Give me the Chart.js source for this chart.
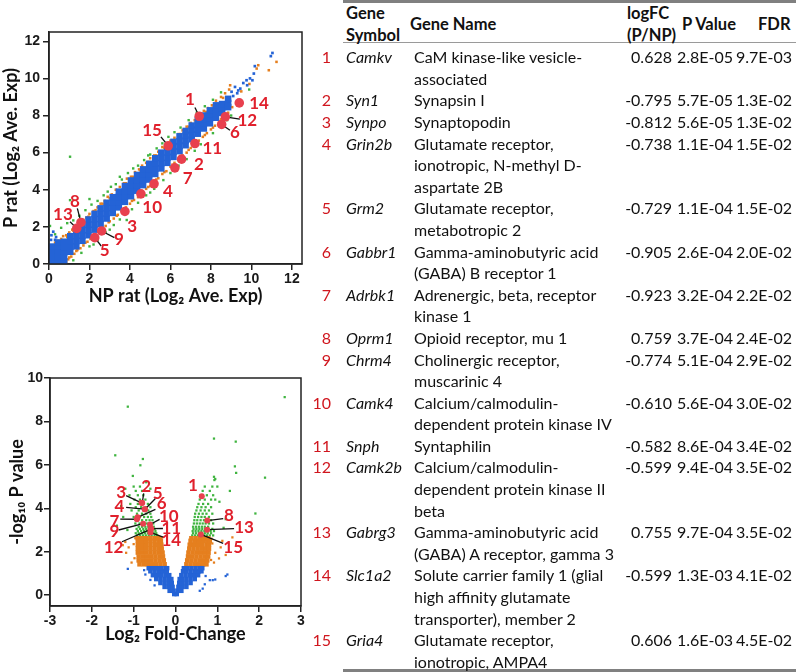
<!DOCTYPE html>
<html><head><meta charset="utf-8">
<script src="https://cdn.jsdelivr.net/npm/chart.js@4/dist/chart.umd.min.js"></script>
<style>
html,body{margin:0;padding:0;background:#fff;}
body{width:796px;height:672px;position:relative;overflow:hidden;font-family:Lato,'Noto Sans',sans-serif;color:#111;}
canvas{position:absolute;left:0;}
#c1{top:0;}
#c2{top:330px;}
.rule{position:absolute;left:343px;width:453px;background:#808080;}
.hd{position:absolute;font-weight:bold;font-size:16.5px;line-height:22px;white-space:pre;}
#rows{position:absolute;left:0;top:46.2px;width:796px;font-size:16px;line-height:21.6px;}
.row{position:relative;}
.row span{position:absolute;top:0;white-space:pre;}
.row .g{margin-left:414px;white-space:pre;}
.row .n{right:465px;color:#d0161e;}
.row .s{left:346px;font-style:italic;}
.row .v{right:124px;}
.row .p{right:63px;}
.row .f{right:4px;}
</style></head><body>
<canvas id="c1" width="310" height="310"></canvas>
<canvas id="c2" width="310" height="316"></canvas>
<div class="rule" style="top:0;height:2.5px"></div>
<div class="rule" style="top:42px;height:1px;background:#9a9a9a"></div>
<div class="rule" style="top:669px;height:2.5px"></div>
<div class="hd" style="left:346px;top:2px">Gene
Symbol</div>
<div class="hd" style="left:410px;top:13px">Gene Name</div>
<div class="hd" style="left:627px;top:2px">logFC
(P/NP)</div>
<div class="hd" style="left:682px;top:13px">P Value</div>
<div class="hd" style="left:758px;top:13px">FDR</div>
<div id="rows"></div>
<script>
// ---------- table data ----------
const geneSymbols = ['Camkv','Syn1','Synpo','Grin2b','Grm2','Gabbr1','Adrbk1','Oprm1','Chrm4','Camk4','Snph','Camk2b','Gabrg3','Slc1a2','Gria4'];
const geneNames = [
 'CaM kinase-like vesicle-\nassociated',
 'Synapsin I',
 'Synaptopodin',
 'Glutamate receptor,\nionotropic, N-methyl D-\naspartate 2B',
 'Glutamate receptor,\nmetabotropic 2',
 'Gamma-aminobutyric acid\n(GABA) B receptor 1',
 'Adrenergic, beta, receptor\nkinase 1',
 'Opioid receptor, mu 1',
 'Cholinergic receptor,\nmuscarinic 4',
 'Calcium/calmodulin-\ndependent protein kinase IV',
 'Syntaphilin',
 'Calcium/calmodulin-\ndependent protein kinase II\nbeta',
 'Gamma-aminobutyric acid\n(GABA) A receptor, gamma 3',
 'Solute carrier family 1 (glial\nhigh affinity glutamate\ntransporter), member 2',
 'Glutamate receptor,\nionotropic, AMPA4'];
const logFC = [0.628,-0.795,-0.812,-0.738,-0.729,-0.905,-0.923,0.759,-0.774,-0.610,-0.582,-0.599,0.755,-0.599,0.606];
const pValues = ['2.8E-05','5.7E-05','5.6E-05','1.1E-04','1.1E-04','2.6E-04','3.2E-04','3.7E-04','5.1E-04','5.6E-04','8.6E-04','9.4E-04','9.7E-04','1.3E-03','1.6E-03'];
const fdrValues = ['9.7E-03','1.3E-02','1.3E-02','1.5E-02','1.5E-02','2.0E-02','2.2E-02','2.4E-02','2.9E-02','3.0E-02','3.4E-02','3.5E-02','3.5E-02','4.1E-02','4.5E-02'];
// -log10 of the P values above (volcano y of the 15 genes)
const negLogP = [4.553,4.244,4.252,3.959,3.959,3.585,3.495,3.432,3.292,3.252,3.066,3.027,3.013,2.886,2.796];

// ---------- MA-style scatter (P vs NP) ----------
const maTicks = [0,2,4,6,8,10,12];
const maGeneX = [7.42,6.55,3.75,5.19,2.26,8.53,6.22,1.58,2.60,4.54,7.21,8.71,1.37,9.40,5.89];
const maGeneY = [7.96,5.65,2.83,4.32,1.42,7.52,5.18,2.24,1.78,3.78,6.49,7.93,1.92,8.68,6.37];
const maLabelX = [6.96,7.41,4.11,5.88,2.75,9.19,6.85,1.28,3.46,5.10,8.07,9.80,0.69,10.38,5.09];
const maLabelY = [8.88,5.38,2.00,3.93,0.72,7.07,4.59,3.38,1.33,3.07,6.20,7.72,2.64,8.62,7.21];
const maLineX = [7.21,null,null,null,2.58,8.94,null,1.40,3.23,null,null,9.43,1.04,null,5.53];
const maLineY = [8.43,null,null,null,0.97,7.21,null,3.00,1.42,null,null,7.80,2.28,null,6.85];
const maBlue = [
[0.15,0.1],[0.15,0.38],[0.15,0.66],[0.15,0.94],
[0.45,0.1],[0.45,0.38],[0.45,0.66],[0.45,0.94],[0.45,1.16],
[0.75,0.12],[0.75,0.36],[0.75,0.63],[0.75,0.92],[0.75,1.2],
[1.05,0.66],[1.05,0.93],[1.05,1.22],[1.05,1.5],
[1.35,0.95],[1.35,1.23],[1.35,1.52],[1.35,1.8],
[1.65,1.25],[1.65,1.53],[1.65,1.82],[1.65,2.1],
[1.95,1.55],[1.95,1.83],[1.95,2.12],[1.95,2.4],
[2.25,1.85],[2.25,2.13],[2.25,2.42],[2.25,2.7],
[2.55,2.15],[2.55,2.43],[2.55,2.72],[2.55,3.0],
[2.85,2.45],[2.85,2.73],[2.85,3.02],[2.85,3.3],
[3.15,2.75],[3.15,3.03],[3.15,3.32],[3.15,3.6],
[3.45,3.05],[3.45,3.33],[3.45,3.62],[3.45,3.9],
[3.75,3.35],[3.75,3.63],[3.75,3.92],[3.75,4.2],
[4.05,3.65],[4.05,3.93],[4.05,4.22],[4.05,4.5],
[4.35,3.95],[4.35,4.23],[4.35,4.52],[4.35,4.8],
[4.65,4.25],[4.65,4.53],[4.65,4.82],[4.65,5.1],
[4.95,4.55],[4.95,4.83],[4.95,5.12],[4.95,5.4],
[5.25,4.85],[5.25,5.13],[5.25,5.42],[5.25,5.7],
[5.55,5.15],[5.55,5.43],[5.55,5.72],[5.55,6.0],
[5.85,5.45],[5.85,5.73],[5.85,6.02],[5.85,6.28],
[6.15,5.77],[6.15,6.04],[6.15,6.32],[6.15,6.58],
[6.45,6.08],[6.45,6.35],[6.45,6.62],[6.45,6.88],
[6.75,6.4],[6.75,6.66],[6.75,6.93],[6.75,7.17],
[7.05,6.72],[7.05,6.98],[7.05,7.24],[7.05,7.46],
[7.35,7.02],[7.35,7.28],[7.35,7.53],[7.35,7.74],
[7.65,7.3],[7.65,7.56],[7.65,7.8],[7.65,8.0],
[7.95,7.58],[7.95,7.84],[7.95,8.08],[7.95,8.28],
[8.25,7.88],[8.25,8.12],[8.25,8.36],[8.25,8.55],
[8.55,8.15],[8.55,8.4],[8.55,8.62],
[8.85,8.45],[8.85,8.68],[8.85,8.9]];
const maBlueSparse = [
[9.02,9.28],[9.19,9.54],[9.3,9.2],[9.45,9.45],[9.1,9.05],[9.76,9.9],[9.79,9.63],[9.93,10.0],
[10.12,10.26],[10.17,10.66],[10.96,11.2],[11.04,11.37],[9.6,9.75],[10.05,9.9],[9.35,9.35],
[0.21,1.74],[0.35,1.45],[0.1,1.3],[0.12,1.55],[0.3,1.3]];
const maOrange = [
[0.3,1.15],[0.45,1.25],[0.6,1.35],[0.7,1.5],[0.85,1.55],[1.0,1.7],[1.15,1.85],[1.3,1.98],[1.5,2.15],[1.7,2.38],
[1.85,2.5],[2.0,2.7],[2.2,2.85],[2.4,3.05],[2.55,3.25],[2.75,3.4],[2.9,3.62],[3.1,3.75],[3.3,4.0],[3.5,4.15],
[3.7,4.35],[3.85,4.6],[4.05,4.7],[4.25,4.95],[4.45,5.1],[4.6,5.3],[4.8,5.45],[5.0,5.7],[5.2,5.85],[5.4,6.05],
[5.6,6.3],[5.8,6.4],[6.0,6.65],[6.2,6.8],[6.4,7.0],[6.6,7.2],[6.8,7.4],[7.0,7.6],[7.2,7.75],[7.45,8.0],
[7.65,8.25],[7.85,8.4],[8.05,8.55],[8.25,8.8],[8.5,9.0],[8.7,9.2],[8.95,9.63],[8.9,9.4],
[0.55,1.2],[0.9,1.45],[1.2,1.8],[1.6,2.2],[1.95,2.55],[2.3,2.9],[2.65,3.25],[3.0,3.55],[3.4,3.95],[3.8,4.35],
[4.15,4.7],[4.5,5.05],[4.9,5.5],[5.3,5.85],[5.7,6.25],[6.1,6.6],[6.5,7.0],[6.9,7.4],[7.3,7.8],[7.75,8.2],
[8.15,8.55],[8.6,8.95],
[10.34,10.71],[10.26,10.53],[10.86,10.44],[11.24,10.89],[9.9,9.7],[9.5,9.3],
[0.85,0.1],[0.95,0.25],[1.1,0.4],[1.25,0.55],[1.4,0.75],[1.55,0.85],[1.7,1.0],[1.9,1.2],[2.05,1.35],[2.25,1.55],
[2.45,1.72],[2.6,1.95],[2.8,2.05],[3.0,2.3],[3.2,2.45],[3.4,2.65],[3.6,2.85],[3.8,3.05],[4.0,3.25],[4.2,3.45],
[4.4,3.6],[4.6,3.85],[4.8,4.05],[5.0,4.2],[5.2,4.45],[5.4,4.62],[5.6,4.85],[5.8,5.0],[6.0,5.25],[6.2,5.45],
[6.4,5.6],[6.6,5.85],[6.8,6.0],[7.0,6.25],[7.2,6.4],[7.4,6.65],[7.6,6.85],[7.8,7.05],[8.0,7.25],[8.2,7.45],
[8.4,7.7],[8.6,7.85],[8.85,8.15],[9.05,8.45],
[1.0,0.35],[1.35,0.7],[1.8,1.15],[2.15,1.5],[2.55,1.85],[2.95,2.25],[3.35,2.6],[3.75,3.0],[4.1,3.4],[4.5,3.8],
[4.9,4.15],[5.3,4.55],[5.7,4.95],[6.1,5.35],[6.5,5.75],[6.9,6.15],[7.3,6.55],[7.7,6.95],[8.1,7.35],[8.5,7.8]];
const maGreen = [
[0.05,2.05],[0.3,1.6],[0.6,1.95],[0.9,2.2],[1.04,3.44],[1.2,2.35],[1.5,2.6],[1.8,2.9],[2.1,3.2],[2.4,3.4],
[2.7,3.7],[2.9,3.9],[3.06,4.16],[3.3,4.3],[3.6,4.55],[3.9,4.9],[4.16,5.15],[4.4,5.3],[4.7,5.6],[5.0,5.9],
[5.32,6.23],[5.6,6.5],[5.9,6.85],[6.2,7.1],[6.5,7.35],[6.9,7.75],[7.3,8.15],[7.7,8.5],[8.1,8.85],[8.5,9.25],
[1.04,5.78],[2.0,3.5],[3.5,4.7],[4.9,5.85],[9.89,9.4],
[1.2,0.2],[1.6,0.6],[2.0,0.95],[2.4,1.3],[2.8,1.7],[3.2,2.1],[3.5,2.4],[3.84,2.37],[4.1,2.95],[4.4,3.3],
[4.8,3.7],[5.2,4.05],[5.65,4.52],[6.0,4.9],[6.4,5.3],[6.8,5.65],[7.2,6.1],[7.5,6.45],[8.1,7.05],[8.45,7.4],
[8.8,7.75],[9.0,8.0],[2.2,1.05],[3.0,1.85],[5.0,3.85],[6.6,5.5]];

// ---------- volcano ----------
const volXTicks = [-3,-2,-1,0,1,2,3];
const volYTicks = [0,2,4,6,8,10];
const volLabelX = [0.415,-0.70,-1.30,-1.34,-0.425,-0.33,-1.46,1.28,-1.46,-0.16,-0.10,-1.48,1.64,-0.10,1.38];
const volLabelY = [5.04,5.02,4.73,4.10,4.69,4.21,3.38,3.66,2.92,3.64,3.07,2.18,3.12,2.50,2.18];
const volLineX = [null,-0.76,-1.18,-1.18,-0.48,-0.48,-1.32,1.14,-1.36,-0.38,-0.30,-1.28,1.40,-0.28,1.14];
const volLineY = [null,4.69,4.58,4.04,4.45,3.95,3.50,3.52,3.00,3.49,3.07,2.46,3.06,2.66,2.38];
const volBlue = [
[-0.03,0.05],[0.03,0.05],
[-0.14,0.2],[-0.05,0.2],[0.05,0.2],[0.14,0.2],
[-0.26,0.38],[-0.16,0.38],[-0.07,0.38],[0.07,0.38],[0.16,0.38],[0.26,0.38],
[-0.36,0.56],[-0.26,0.56],[-0.16,0.56],[-0.09,0.56],[0.09,0.56],[0.16,0.56],[0.26,0.56],[0.36,0.56],
[-0.46,0.74],[-0.36,0.74],[-0.26,0.74],[-0.16,0.74],[-0.1,0.74],[0.1,0.74],[0.16,0.74],[0.26,0.74],[0.36,0.74],[0.46,0.74],
[-0.54,0.92],[-0.44,0.92],[-0.34,0.92],[-0.24,0.92],[-0.15,0.92],[0.14,0.92],[0.24,0.92],[0.34,0.92],[0.44,0.92],[0.54,0.92],
[-0.6,1.1],[-0.5,1.1],[-0.4,1.1],[-0.3,1.1],[-0.21,1.1],[0.18,1.1],[0.26,1.1],[0.36,1.1],[0.46,1.1],[0.56,1.1],[0.62,1.1],
[-0.64,1.24],[-0.54,1.24],[-0.44,1.24],[-0.34,1.24],[-0.24,1.24],[-0.2,1.24],[0.2,1.24],[0.28,1.24],[0.38,1.24],[0.48,1.24],[0.58,1.24],[0.64,1.24]];
const volBlueSparse = [
[-1.14,1.21],[-0.75,1.15],[-0.72,0.95],[0.72,0.88],[0.82,0.69],[0.89,0.69],[0.95,0.72],[1.2,0.88],[1.24,0.95],
[0.7,0.5],[0.65,0.3],[-0.6,0.7],[0.58,0.2],[-0.5,0.45]];
const volOrange = [
[-0.86,1.42],[-0.76,1.42],[-0.66,1.42],[-0.56,1.42],[-0.46,1.42],[-0.36,1.42],[-0.26,1.42],[0.26,1.42],[0.36,1.42],[0.46,1.42],[0.56,1.42],[0.66,1.42],[0.74,1.42],
[-0.88,1.6],[-0.78,1.6],[-0.68,1.6],[-0.58,1.6],[-0.48,1.6],[-0.38,1.6],[-0.28,1.6],[0.28,1.6],[0.38,1.6],[0.48,1.6],[0.58,1.6],[0.68,1.6],[0.76,1.6],
[-0.88,1.78],[-0.78,1.78],[-0.68,1.78],[-0.58,1.78],[-0.48,1.78],[-0.38,1.78],[-0.3,1.78],[0.3,1.78],[0.4,1.78],[0.5,1.78],[0.6,1.78],[0.7,1.78],[0.78,1.78],
[-0.9,1.96],[-0.8,1.96],[-0.7,1.96],[-0.6,1.96],[-0.5,1.96],[-0.4,1.96],[-0.31,1.96],[0.31,1.96],[0.41,1.96],[0.51,1.96],[0.61,1.96],[0.71,1.96],[0.79,1.96],
[-0.9,2.14],[-0.8,2.14],[-0.7,2.14],[-0.6,2.14],[-0.5,2.14],[-0.4,2.14],[-0.33,2.14],[0.33,2.14],[0.43,2.14],[0.53,2.14],[0.63,2.14],[0.73,2.14],[0.8,2.14],
[-0.9,2.32],[-0.8,2.32],[-0.7,2.32],[-0.6,2.32],[-0.5,2.32],[-0.41,2.32],[-0.34,2.32],[0.34,2.32],[0.44,2.32],[0.54,2.32],[0.64,2.32],[0.74,2.32],[0.8,2.32],
[-0.9,2.5],[-0.8,2.5],[-0.7,2.5],[-0.6,2.5],[-0.5,2.5],[-0.4,2.5],[-0.35,2.5],[0.36,2.5],[0.46,2.5],[0.56,2.5],[0.66,2.5],[0.76,2.5],[0.82,2.5],
[-0.9,2.62],[-0.8,2.62],[-0.7,2.62],[-0.6,2.62],[-0.5,2.62],[-0.42,2.62],[-0.36,2.62],[0.38,2.62],[0.48,2.62],[0.58,2.62],[0.68,2.62],[0.78,2.62]];
const volOrangeSparse = [
[-1.18,1.95],[-1.05,1.5],[-1.12,2.2],[-1.2,2.45],[-0.98,1.7],[-1.0,2.35],[-1.26,2.3],[-0.96,2.62],
[0.88,2.38],[1.08,2.2],[1.04,1.69],[0.92,1.5],[0.95,1.95],[1.12,2.5],[0.86,2.6],[1.2,1.85],[1.36,2.66],[0.85,1.62]];
const volGreen = [
[-0.92,2.75],[-0.85,2.75],[-0.78,2.75],[-0.71,2.75],[-0.64,2.75],[-0.57,2.75],[-0.5,2.75],[-0.44,2.75],
[-0.95,2.85],[-0.88,2.85],[-0.8,2.85],[-0.73,2.85],[-0.66,2.85],[-0.59,2.85],[-0.52,2.85],[-0.46,2.85],
[-0.9,2.95],[-0.82,2.95],[-0.75,2.95],[-0.68,2.95],[-0.61,2.95],[-0.55,2.95],[-0.48,2.95],
[-0.93,3.05],[-0.85,3.05],[-0.77,3.05],[-0.7,3.05],[-0.63,3.05],[-0.56,3.05],[-0.5,3.05],
[-0.88,3.15],[-0.8,3.15],[-0.72,3.15],[-0.65,3.15],[-0.58,3.15],[-0.52,3.15],
[-0.96,3.3],[-0.86,3.3],[-0.76,3.3],[-0.68,3.3],[-0.6,3.3],[-0.53,3.3],
[-0.9,3.45],[-0.8,3.45],[-0.7,3.45],[-0.62,3.45],[-0.55,3.45],
[-1.0,3.6],[-0.85,3.6],[-0.75,3.6],[-0.66,3.6],[-0.58,3.6],
[-0.92,3.75],[-0.8,3.75],[-0.7,3.75],[-0.6,3.75],
[-1.05,3.9],[-0.88,3.9],[-0.76,3.9],[-0.65,3.9],
[-0.95,4.05],[-0.82,4.05],[-0.7,4.05],[-0.6,4.05],
[-1.08,4.2],[-0.9,4.2],[-0.78,4.2],[-0.66,4.2],
[-0.98,4.4],[-0.85,4.4],[-0.72,4.4],
[-1.1,4.6],[-0.9,4.6],[-0.77,4.6],
[-0.95,4.8],[-0.8,4.8],[-1.0,5.0],[-0.85,5.0],
[-1.14,8.68],[-1.44,6.44],[-0.78,6.27],[-0.84,5.98],[-1.02,5.49],[-1.2,4.9],[-1.3,4.1],[-1.25,3.6],[-1.4,3.2],
[-0.6,4.9],[-0.7,5.2],[-1.15,3.0],
[0.4,2.75],[0.47,2.75],[0.54,2.75],[0.61,2.75],[0.68,2.75],[0.75,2.75],[0.82,2.75],[0.9,2.75],
[0.42,2.85],[0.49,2.85],[0.56,2.85],[0.63,2.85],[0.7,2.85],[0.77,2.85],[0.85,2.85],
[0.41,2.95],[0.48,2.95],[0.55,2.95],[0.62,2.95],[0.69,2.95],[0.76,2.95],[0.84,2.95],[0.92,2.95],
[0.43,3.05],[0.5,3.05],[0.57,3.05],[0.64,3.05],[0.71,3.05],[0.79,3.05],[0.88,3.05],
[0.42,3.15],[0.49,3.15],[0.56,3.15],[0.63,3.15],[0.7,3.15],[0.78,3.15],
[0.44,3.3],[0.51,3.3],[0.58,3.3],[0.65,3.3],[0.72,3.3],[0.8,3.3],[0.9,3.3],
[0.45,3.45],[0.52,3.45],[0.6,3.45],[0.68,3.45],[0.76,3.45],[0.85,3.45],
[0.46,3.6],[0.54,3.6],[0.62,3.6],[0.7,3.6],[0.8,3.6],
[0.47,3.75],[0.56,3.75],[0.65,3.75],[0.74,3.75],[0.88,3.75],
[0.5,3.9],[0.6,3.9],[0.7,3.9],[0.8,3.9],
[0.52,4.05],[0.62,4.05],[0.72,4.05],[0.85,4.05],
[0.55,4.2],[0.66,4.2],[0.78,4.2],
[0.58,4.4],[0.7,4.4],[0.85,4.4],[0.95,4.4],
[0.6,4.6],[0.75,4.6],[0.9,4.6],[0.65,4.8],[0.82,4.8],[0.7,5.0],[0.88,5.0],[1.0,5.0],[0.93,5.3],
[0.92,7.21],[1.44,7.07],[1.42,5.93],[1.45,5.63],[2.14,5.41],[1.91,3.76],[2.61,9.12],[0.92,5.45],[0.95,5.35],
[1.05,4.3],[1.2,3.5],[1.15,3.1],[1.3,4.8]];

// ---------- colours ----------
const BLUE = '#2463d6', ORANGE = '#e57f1e', GREEN = '#3fb43f', RED = '#e8404e', LABRED = '#e0202c';

// ---------- table build ----------
const rows = document.getElementById('rows');
geneSymbols.forEach((s, i) => {
  const row = document.createElement('div');
  row.className = 'row';
  const add = (tag, cls, txt) => { const e = document.createElement(tag); e.className = cls; e.textContent = txt; row.appendChild(e); };
  add('span', 'n', String(i + 1));
  add('span', 's', s);
  add('span', 'v', logFC[i].toFixed(3));
  add('span', 'p', pValues[i]);
  add('span', 'f', fdrValues[i]);
  add('div', 'g', geneNames[i]);
  rows.appendChild(row);
});

// ---------- chart helpers ----------
const pts = a => a.map(p => ({x: p[0], y: p[1]}));
function annotPlugin(gx, gy, lx, ly, sx, sy, fontSize) {
  return {
    id: 'annot',
    beforeDatasetDraw(chart, args) {
      if (args.index !== 0) return;
      const {ctx, scales: {x, y}} = chart;
      ctx.save();
      ctx.strokeStyle = '#111';
      ctx.lineWidth = 1.3;
      gx.forEach((v, i) => {
        if (sx[i] === null) return;
        ctx.beginPath();
        ctx.moveTo(x.getPixelForValue(sx[i]), y.getPixelForValue(sy[i]));
        ctx.lineTo(x.getPixelForValue(v), y.getPixelForValue(gy[i]));
        ctx.stroke();
      });
      ctx.restore();
    },
    afterDatasetsDraw(chart) {
      const {ctx, chartArea: a, scales: {x, y}} = chart;
      ctx.save();
      ctx.strokeStyle = '#222';
      ctx.lineWidth = 1.5;
      ctx.strokeRect(a.left, a.top, a.right - a.left, a.bottom - a.top);
      ctx.fillStyle = LABRED;
      ctx.font = 'bold ' + fontSize + 'px Lato';
      ctx.textAlign = 'center';
      ctx.textBaseline = 'middle';
      lx.forEach((v, i) => ctx.fillText(String(i + 1), x.getPixelForValue(v), y.getPixelForValue(ly[i])));
      ctx.restore();
    }
  };
}
function axis(min, max, tickVals, fit, title, titlePad, tickPad, isX) {
  return {
    type: 'linear', min: min, max: max,
    afterBuildTicks: s => { s.ticks = tickVals.map(v => ({value: v})); },
    afterFit: s => { if (isX) s.height = fit; else s.width = fit; },
    grid: {drawOnChartArea: false, drawTicks: true, tickLength: 6, color: '#222', lineWidth: 1.5},
    border: {display: true, color: '#222', width: 1.5},
    ticks: {font: {family: 'Liberation Sans', weight: 'bold', size: 14}, color: '#1a1a1a', padding: tickPad, maxRotation: 0, autoSkip: false},
    title: {display: true, text: title, color: '#111', font: {family: 'Lato', weight: 'bold', size: 18}, padding: titlePad}
  };
}
function ds(data, color, radius, style) {
  return {data: pts(data), backgroundColor: color, borderWidth: 0, pointRadius: radius, pointHoverRadius: radius, pointStyle: style};
}
const common = {responsive: false, animation: false, events: [], plugins: {legend: {display: false}, tooltip: {enabled: false}}};

// ---------- chart 1 ----------
new Chart(document.getElementById('c1'), {
  type: 'scatter',
  data: {datasets: [
    ds(maGeneX.map((v, i) => [v, maGeneY[i]]), RED, 4.8, 'circle'),
    ds(maBlue, BLUE, 4.6, 'rect'),
    ds(maBlueSparse, BLUE, 1.9, 'rect'),
    ds(maOrange, ORANGE, 1.8, 'rect'),
    ds(maGreen, GREEN, 1.7, 'rect')
  ]},
  options: Object.assign({}, common, {
    layout: {padding: {top: 32, right: 8, left: 0, bottom: 0}},
    scales: {
      x: axis(0, 12.5, maTicks, 46, 'NP rat (Log\u2082 Ave. Exp)', {top: 0, bottom: 3}, 1, true),
      y: axis(0, 12.5, maTicks, 49, 'P rat (Log\u2082 Ave. Exp)', {top: 0, bottom: 0}, 3, false)
    }
  }),
  plugins: [annotPlugin(maGeneX, maGeneY, maLabelX, maLabelY, maLineX, maLineY, 17)]
});

// ---------- chart 2 ----------
new Chart(document.getElementById('c2'), {
  type: 'scatter',
  data: {datasets: [
    ds(logFC.map((v, i) => [v, negLogP[i]]), RED, 3, 'circle'),
    ds(volBlue, BLUE, 3.2, 'rect'),
    ds(volBlueSparse, BLUE, 1.6, 'rect'),
    ds(volOrange, ORANGE, 3.2, 'rect'),
    ds(volOrangeSparse, ORANGE, 1.6, 'rect'),
    ds(volGreen, GREEN, 1.6, 'rect')
  ]},
  options: Object.assign({}, common, {
    layout: {padding: {top: 48, right: 9, left: 0, bottom: 0}},
    scales: {
      x: axis(-3, 3, volXTicks, 40, 'Log\u2082 Fold-Change', {top: 0, bottom: 1}, 1, true),
      y: axis(-0.5, 10, volYTicks, 50, '-log\u2081\u2080 P value', {top: 6, bottom: 0}, 1, false)
    }
  }),
  plugins: [annotPlugin(logFC, negLogP, volLabelX, volLabelY, volLineX, volLineY, 17)]
});
</script>
</body></html>
